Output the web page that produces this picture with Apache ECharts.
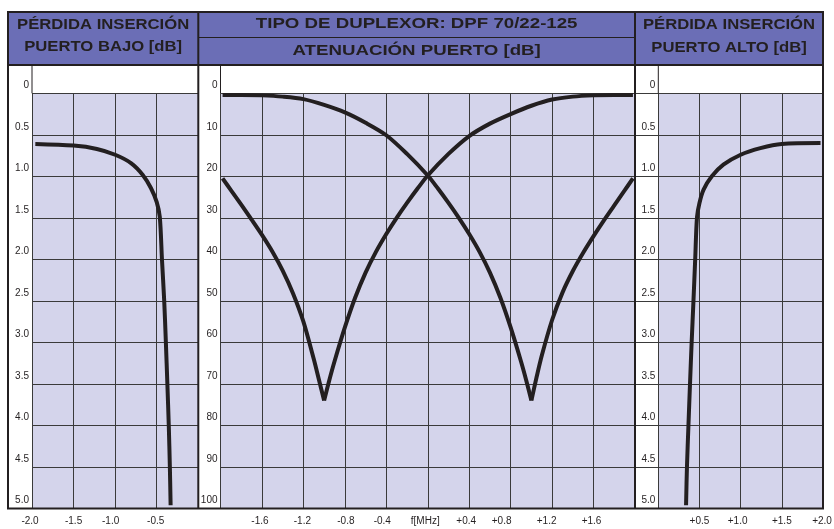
<!DOCTYPE html>
<html><head><meta charset="utf-8">
<script src="https://cdn.jsdelivr.net/npm/echarts@6/dist/echarts.min.js"></script>
<style>html,body{margin:0;padding:0;background:#fff}#c{width:834px;height:529px}</style>
</head><body><div id="c"></div>
<script>
// ---------- DATA ----------
// Left panel: insertion loss, low port (MHz offset, dB)
const lowFreq = [-1.96, -1.5, -1.22, -1.0, -0.81, -0.67, -0.57, -0.5, -0.463, -0.437, -0.41, -0.39, -0.372, -0.355, -0.342, -0.333];
const lowLoss = [0.61, 0.63, 0.67, 0.74, 0.84, 0.98, 1.14, 1.31, 1.49, 2.0, 2.5, 3.0, 3.5, 4.0, 4.5, 4.96];
// Right panel: insertion loss, high port
const highFreq = [0.337, 0.348, 0.366, 0.385, 0.405, 0.427, 0.448, 0.47, 0.5, 0.55, 0.65, 0.79, 1.0, 1.24, 1.5, 1.97];
const highLoss = [4.96, 4.5, 4.0, 3.5, 3.0, 2.5, 2.0, 1.49, 1.32, 1.16, 1.0, 0.86, 0.74, 0.66, 0.61, 0.60];
// Middle panel: port attenuation curve A (notch near +1.0 MHz)
const attAFreq = [-1.98, -1.8, -1.6, -1.4, -1.2, -1.0, -0.8, -0.6, -0.4, -0.2, 0, 0.1, 0.2, 0.3, 0.4, 0.5, 0.6, 0.7, 0.8, 0.9, 0.95, 1.0,
                  1.05, 1.1, 1.2, 1.3, 1.4, 1.5, 1.6, 1.7, 1.8, 1.9, 1.98];
const attA     = [0.4, 0.4, 0.5, 0.8, 1.4, 2.8, 4.6, 7.1, 10.1, 14.6, 19.8, 23.0, 26.4, 30.0, 33.9, 38.2, 43.2, 49.2, 56.4, 64.6, 69.1, 74,
                  68.4, 63.2, 54.6, 48.0, 42.8, 38.4, 34.4, 30.6, 27.0, 23.4, 20.5];
// Middle panel: port attenuation curve B (notch near -1.0 MHz)
const attBFreq = [-1.98, -1.9, -1.8, -1.7, -1.6, -1.5, -1.4, -1.3, -1.2, -1.1, -1.05, -1.0,
                  -0.95, -0.9, -0.8, -0.7, -0.6, -0.5, -0.4, -0.3, -0.2, -0.1, 0, 0.2, 0.4, 0.6, 0.8, 1.0, 1.2, 1.4, 1.6, 1.8, 1.98];
const attB     = [20.5, 23.3, 26.8, 30.4, 34.1, 38.1, 42.7, 48.2, 55.0, 64.0, 69.0, 74,
                  69.1, 64.6, 56.4, 49.2, 43.2, 38.2, 33.9, 30.0, 26.4, 23.0, 19.8, 14.6, 10.3, 7.3, 5.0, 3.0, 1.5, 0.8, 0.5, 0.4, 0.4];
// Tick labels
const lossTicks = ['0', '0.5', '1.0', '1.5', '2.0', '2.5', '3.0', '3.5', '4.0', '4.5', '5.0'];
const attTicks = ['0', '10', '20', '30', '40', '50', '60', '70', '80', '90', '100'];
const lowXTicks = ['-2.0', '-1.5', '-1.0', '-0.5', ''];
const midXTicks = ['', '-1.6', '-1.2', '-0.8', '-0.4', 'f[MHz]', '+0.4', '+0.8', '+1.2', '+1.6', ''];
const highXTicks = ['', '+0.5', '+1.0', '+1.5', '+2.0'];
// Header texts
const leftTitle = ['PÉRDIDA INSERCIÓN', 'PUERTO BAJO [dB]'];
const midTitle = ['TIPO DE DUPLEXOR: DPF 70/22-125', 'ATENUACIÓN PUERTO [dB]'];
const rightTitle = ['PÉRDIDA INSERCIÓN', 'PUERTO ALTO [dB]'];

// ---------- STYLE / LAYOUT ----------
const INK = '#231f20', HEAD = '#6b6eb6', PLOT = '#d4d4eb', GRIDC = '#3a3a3a';
const FONT = '"Liberation Sans", Arial, Helvetica, sans-serif';
const FT = 12, FB = 508.5, HT = 65, PT = 93.3;
const FL = 8, FR = 823;
const panels = [
  {x0: FL, lab: 32, x1: 198.3, ty: [25, 47], sx: 1.11},
  {x0: 198.3, lab: 220.5, x1: 635, ty: [24, 50.5], sx: 1.245},
  {x0: 635, lab: 658.3, x1: FR, ty: [25, 47.5], sx: 1.11}
];
// small horizontal nudges (px) of the bottom tick labels, as in the print
const lowShift = [-2, 0, -4.5, -1, 0];
const midShift = [0, -2, -1, 1, -4, -2.5, -3, -9, -5.5, -2, 0];
const highShift = [0, 0, -3, 0, -1];

function zip(a, b) { return a.map((v, i) => [v, b[i]]); }
function splitAtMax(xs, ys) {
  let k = 0; ys.forEach((v, i) => { if (v > ys[k]) k = i; });
  return [zip(xs.slice(0, k + 1), ys.slice(0, k + 1)), zip(xs.slice(k), ys.slice(k))];
}

const grids = panels.map(p => ({
  left: p.lab, top: PT, width: p.x1 - p.lab, height: FB - PT,
  show: true, backgroundColor: PLOT, borderWidth: 0, containLabel: false, outerBoundsMode: 'none'
}));

function xAxis(gi, min, max, interval, labels, shifts) {
  const rich = {};
  shifts.forEach((s, i) => {
    rich['s' + i] = {fontSize: 10, fontFamily: FONT, color: INK,
      padding: s < 0 ? [0, -2 * s, 0, 0] : [0, 0, 0, 2 * s]};
  });
  return {
    type: 'value', gridIndex: gi, min, max, interval,
    axisLine: {show: false}, axisTick: {show: false},
    splitLine: {show: true, lineStyle: {color: GRIDC, width: 1}},
    axisLabel: {
      show: true, margin: 8, color: INK, fontSize: 10, fontFamily: FONT,
      showMinLabel: true, showMaxLabel: true, hideOverlap: false, rich,
      formatter: v => {
        const i = Math.round((v - min) / interval);
        return labels[i] ? '{s' + i + '|' + labels[i] + '}' : '';
      }
    }
  };
}
function yAxis(gi, max, interval, labels, tickLen) {
  return {
    type: 'value', gridIndex: gi, min: 0, max, interval, inverse: true,
    axisLine: {show: true, lineStyle: {color: GRIDC, width: 1}},
    axisTick: {show: true, length: tickLen, lineStyle: {color: GRIDC, width: 1}},
    splitLine: {show: true, lineStyle: {color: GRIDC, width: 1}},
    axisLabel: {
      show: true, margin: 3, color: INK, fontSize: 10, fontFamily: FONT,
      verticalAlign: 'bottom', padding: [0, 0, 3, 0],
      showMinLabel: true, showMaxLabel: true, hideOverlap: false,
      formatter: v => labels[Math.round(v / interval)] || ''
    }
  };
}

const lineStyle = {color: INK, width: 4};
function curve(gi, data, smooth) {
  return {type: 'line', xAxisIndex: gi, yAxisIndex: gi, data, smooth, showSymbol: false,
    symbol: 'none', lineStyle, silent: true, animation: false, clip: true};
}
const [aL, aR] = splitAtMax(attAFreq, attA);
const [bL, bR] = splitAtMax(attBFreq, attB);

// headers & frame
const graphic = [];
function rect(x, y, w, h, fill) {
  graphic.push({type: 'rect', silent: true, shape: {x, y, width: w, height: h}, style: {fill}, z: 1});
}
function line(x1, y1, x2, y2, w) {
  graphic.push({type: 'line', silent: true, shape: {x1, y1, x2, y2}, style: {stroke: INK, lineWidth: w}, z: 20});
}
function text(str, cx, cy, size, sx) {
  graphic.push({type: 'text', silent: true, x: cx, y: cy, scaleX: sx, z: 21,
    style: {text: str, fill: INK, font: 'bold ' + size + 'px ' + FONT, textAlign: 'center', textVerticalAlign: 'middle'}});
}
rect(FL, FT, FR - FL, HT - FT, HEAD);
const titles = [leftTitle, midTitle, rightTitle];
panels.forEach((p, i) => {
  const cx = (p.x0 + p.x1) / 2;
  text(titles[i][0], cx, p.ty[0], 15, p.sx);
  text(titles[i][1], cx, p.ty[1], 15, p.sx);
  line(p.lab, HT, p.lab, PT, 1);
});
line(panels[1].x0, 37.5, panels[1].x1, 37.5, 1);
line(FL, HT, FR, HT, 2);
line(panels[0].x1, FT, panels[0].x1, FB, 2);
line(panels[2].x0, FT, panels[2].x0, FB, 2);
graphic.push({type: 'rect', silent: true, z: 22, shape: {x: FL, y: FT, width: FR - FL, height: FB - FT},
  style: {fill: 'none', stroke: INK, lineWidth: 2}});

const chart = echarts.init(document.getElementById('c'), null, {renderer: 'canvas'});
chart.setOption({
  animation: false,
  backgroundColor: '#fff',
  grid: grids,
  xAxis: [xAxis(0, -2, 0, 0.5, lowXTicks, lowShift), xAxis(1, -2, 2, 0.4, midXTicks, midShift),
          xAxis(2, 0, 2, 0.5, highXTicks, highShift)],
  yAxis: [yAxis(0, 5, 0.5, lossTicks, panels[0].lab - panels[0].x0),
          yAxis(1, 100, 10, attTicks, panels[1].lab - panels[1].x0),
          yAxis(2, 5, 0.5, lossTicks, panels[2].lab - panels[2].x0)],
  series: [
    curve(0, zip(lowFreq, lowLoss), 0.3),
    curve(1, aL, 0.3), curve(1, aR, 0.3),
    curve(1, bL, 0.3), curve(1, bR, 0.3),
    curve(2, zip(highFreq, highLoss), 0.3)
  ],
  graphic
});
</script></body></html>
